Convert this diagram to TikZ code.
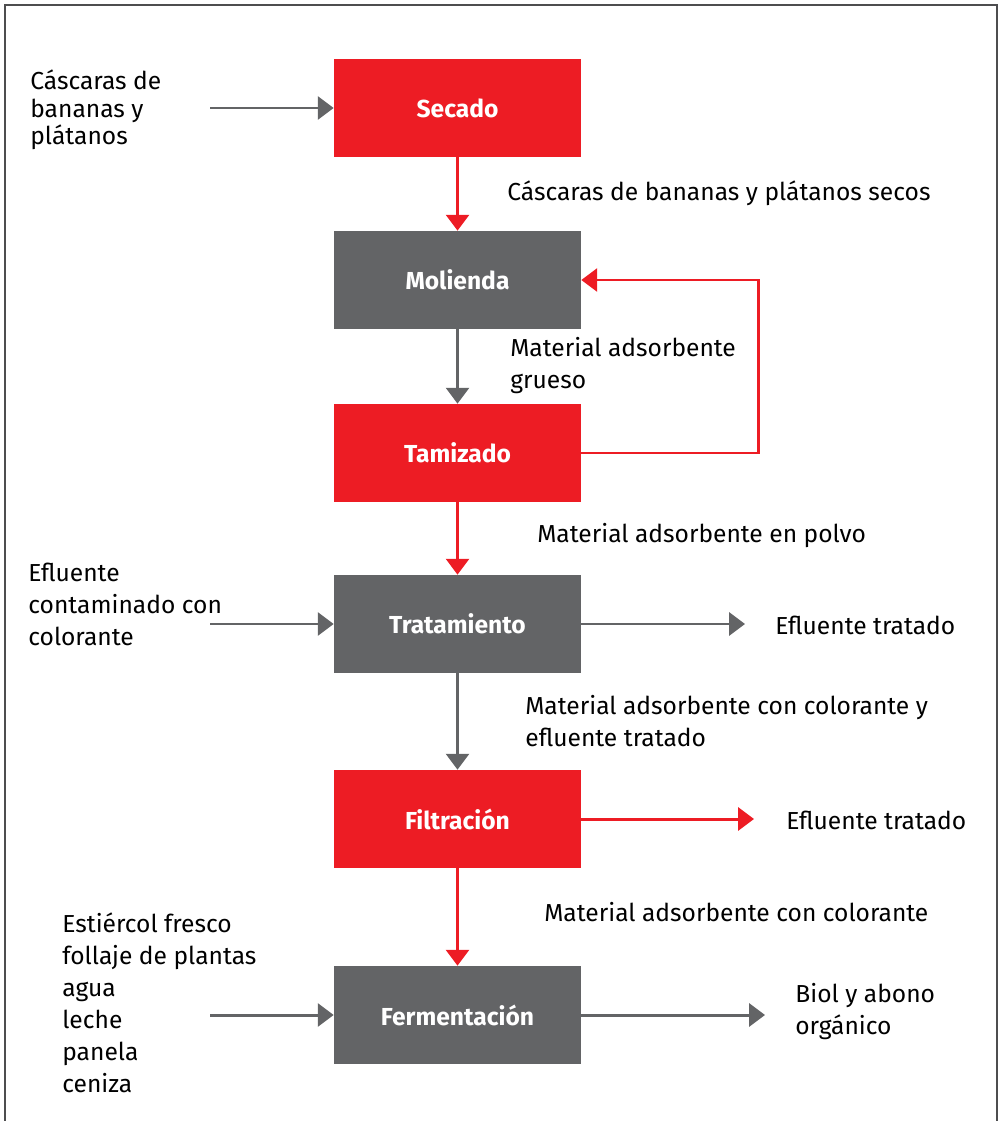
\documentclass[tikz,border=0pt]{standalone}
\usepackage{fontspec}
\setmainfont{Fira Sans}
\usepackage{xcolor}
\usetikzlibrary{arrows.meta}
\definecolor{rojo}{HTML}{ED1C24}
\definecolor{gris}{HTML}{636466}
\definecolor{marco}{HTML}{4D4D4F}

\begin{document}
\begin{tikzpicture}[x=0.02cm,y=-0.02cm]
\tikzset{>={Triangle[width=13pt,length=9pt]}}
\tikzstyle{proceso}=[rectangle,minimum width=4.94cm,minimum height=1.96cm,inner sep=0pt,text=white,font=\bfseries\fontsize{14}{16}\selectfont]
\tikzstyle{texto}=[anchor=west,align=left,inner sep=0pt,font=\fontsize{14}{18.2}\selectfont]
\tikzstyle{flecha}=[->,line width=1.7pt]

\useasboundingbox (0,0) rectangle (1002,1121);
\draw[line width=0.9pt,marco] (5,1121) -- (5,5) -- (997,5) -- (997,1121);

% procesos
\node[proceso,fill=rojo](secado) at (457.5,108){Secado};
\node[proceso,fill=gris](molienda) at (457.5,280){Molienda};
\node[proceso,fill=rojo](tamizado) at (457.5,453){Tamizado};
\node[proceso,fill=gris](tratamiento) at (457.5,624){Tratamiento};
\node[proceso,fill=rojo](filtracion) at (457.5,819){Filtración};
\node[proceso,fill=gris](fermentacion) at (457.5,1015){Fermentación};

% entradas y salidas
\node[texto,font=\fontsize{14}{15.6}\selectfont](cascaras) at (30,110){Cáscaras de\\bananas y\\plátanos};
\node[texto](efluente) at (28,604){Efluente\\contaminado con\\colorante};
\node[texto](insumos) at (62,1003){Estiércol fresco\\follaje de plantas\\agua\\leche\\panela\\ceniza};
\node[texto](tratado1) at (775,625){Efluente tratado};
\node[texto](tratado2) at (786,820){Efluente tratado};
\node[texto](biol) at (795,1012){Biol y abono\\orgánico};

\coordinate (e1) at (210,108);
\coordinate (e2) at (210,624);
\coordinate (e3) at (210,1015);
\coordinate (s1) at (745,624);
\coordinate (s2) at (754,819);
\coordinate (s3) at (765,1015);

% etiquetas de flujo
\node[texto](l1) at (507,193){Cáscaras de bananas y plátanos secos};
\node[texto](l2) at (510,366){Material adsorbente\\grueso};
\node[texto](l3) at (537,536){Material adsorbente en polvo};
\node[texto](l4) at (525,721){Material adsorbente con colorante y\\efluente tratado};
\node[texto](l5) at (544,912){Material adsorbente con colorante};

\draw[flecha,gris] (e1) -- (secado);
\draw[flecha,rojo] (secado) -- (molienda);
\draw[flecha,gris] (molienda) -- (tamizado);
\draw[flecha,rojo] (tamizado.east) -- ++(177,0) |- (molienda.east);
\draw[flecha,rojo] (tamizado) -- (tratamiento);
\draw[flecha,gris] (e2) -- (tratamiento);
\draw[flecha,gris] (tratamiento) -- (s1);
\draw[flecha,gris] (tratamiento) -- (filtracion);
\draw[flecha,rojo] (filtracion) -- (s2);
\draw[flecha,rojo] (filtracion) -- (fermentacion);
\draw[flecha,gris] (e3) -- (fermentacion);
\draw[flecha,gris] (fermentacion) -- (s3);
\end{tikzpicture}
\end{document}
